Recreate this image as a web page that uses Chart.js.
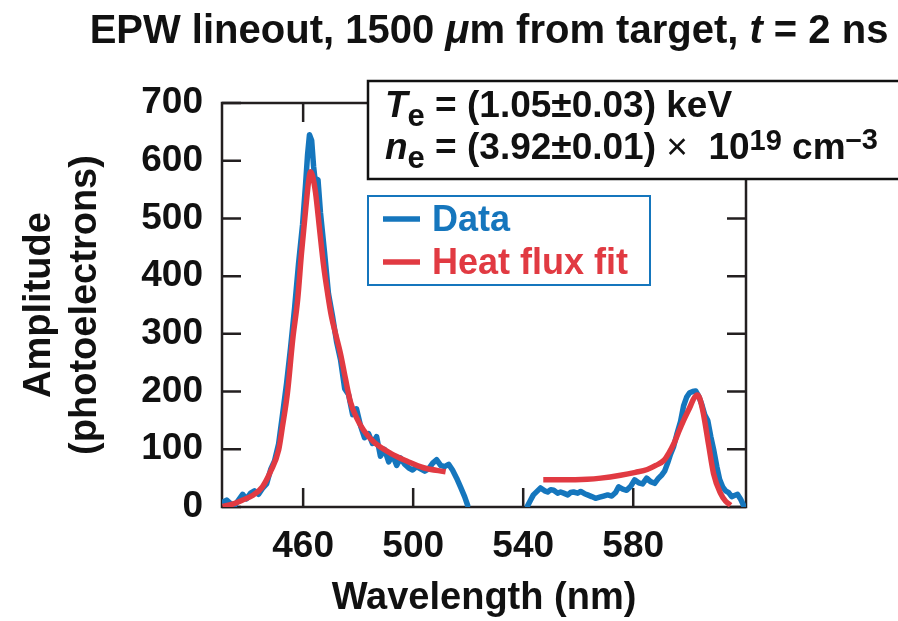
<!DOCTYPE html>
<html>
<head>
<meta charset="utf-8">
<script src="https://cdn.jsdelivr.net/npm/chart.js@4.4.1/dist/chart.umd.min.js"></script>
<style>
  html, body { margin: 0; padding: 0; background: #fff; overflow: hidden; }
  #wrap { width: 898px; height: 621px; position: relative; }
</style>
</head>
<body>
<div id="wrap"><canvas id="c" width="898" height="621"></canvas></div>
<script>
// Measured EPW spectrum (wavelength in nm, amplitude in photoelectrons)
const dataWavelengthLeft = [430.7, 432.2, 433.6, 435.1, 436.5, 438.0, 439.4, 440.9, 442.3, 443.8, 445.2, 446.7, 448.2, 449.6, 451.1, 452.5, 454.0, 455.4, 456.9, 458.3, 459.8, 460.9, 461.6, 462.3, 463.1, 463.8, 464.5, 465.4, 466.3, 467.8, 469.2, 470.7, 472.2, 473.6, 475.1, 476.5, 478.0, 479.4, 480.9, 482.3, 483.8, 485.2, 486.7, 488.1, 489.6, 491.1, 492.5, 494.0, 495.4, 496.9, 498.3, 499.8, 501.2, 502.7, 504.2, 505.6, 507.1, 508.5, 510.0, 511.4, 512.9, 514.3, 515.8, 517.2, 518.7, 519.8];
const dataAmplitudeLeft = [8, 12, 6, 3, 12, 22, 14, 24, 28, 22, 32, 40, 65, 80, 110, 160, 215, 275, 345, 420, 490, 560, 610, 645, 635, 590, 560, 567, 510, 440, 370, 330, 285, 255, 205, 195, 160, 170, 140, 120, 127, 110, 122, 88, 100, 78, 90, 72, 85, 74, 68, 64, 70, 66, 62, 66, 76, 82, 72, 70, 74, 64, 50, 35, 18, 3];
const dataWavelengthRight = [541.6, 542.7, 543.7, 545.2, 546.3, 547.8, 548.9, 550.0, 551.1, 552.5, 553.6, 554.7, 556.2, 557.2, 558.3, 559.8, 560.9, 562.3, 563.4, 564.9, 566.3, 567.8, 569.2, 570.7, 572.2, 573.6, 574.7, 576.2, 577.6, 579.1, 580.5, 582.0, 583.4, 584.9, 586.3, 587.8, 589.2, 590.3, 591.4, 592.5, 593.6, 594.7, 595.8, 597.2, 598.3, 599.4, 600.5, 601.6, 602.7, 603.8, 604.9, 606.0, 607.1, 608.2, 609.3, 610.4, 611.4, 612.5, 613.6, 614.7, 615.8, 616.8, 617.9, 619.0, 620.1];
const dataAmplitudeRight = [2, 12, 21, 28, 33, 28, 26, 30, 29, 24, 26, 24, 21, 25, 26, 24, 27, 23, 21, 18, 15, 17, 19, 21, 19, 25, 35, 31, 29, 36, 47, 42, 40, 50, 44, 41, 50, 55, 62, 76, 92, 105, 125, 148, 175, 190, 198, 200, 201, 192, 178, 160, 150, 122, 98, 70, 48, 35, 28, 25, 18, 20, 22, 14, 3];

// Heat-flux model fit
const fitWavelengthLeft = [430.7, 434.3, 438.0, 441.6, 445.2, 448.2, 451.1, 452.5, 454.3, 456.2, 458.0, 459.4, 460.9, 462.0, 462.7, 463.4, 464.5, 466.0, 467.4, 468.9, 470.3, 471.8, 473.6, 475.4, 477.2, 479.4, 482.0, 485.6, 491.8, 498.0, 503.8, 511.8];
const fitAmplitudeLeft = [1, 5, 12, 20, 35, 62, 99, 140, 198, 290, 359, 440, 515, 565, 581, 574, 545, 480, 420, 370, 330, 300, 265, 222, 182, 155, 133, 113, 93, 79, 68, 61];
const fitWavelengthRight = [547.3, 553.6, 563.3, 568.2, 575.4, 580.8, 585.1, 588.2, 591.2, 592.9, 594.8, 596.5, 598.4, 600.8, 601.9, 603.3, 604.2, 605.5, 607.5, 609.2, 611.7, 613.6, 615.4];
const fitAmplitudeRight = [47, 47, 48, 50, 55, 60, 65, 72, 81, 93, 110, 130, 151, 175, 187, 194, 188, 162, 105, 58, 24, 10, 3];

const xTickValues = [460, 500, 540, 580];
const yTickValues = [0, 100, 200, 300, 400, 500, 600, 700];

const FAMILY = '"Liberation Sans", Arial, Helvetica, sans-serif';
const INK = '#111';
const BLUE = '#1576bd';
const RED = '#e13a42';

function toPoints(xs, ys) {
  return xs.map((x, i) => ({ x: x, y: ys[i] }));
}
function withGap(a, b) {
  // a null point separates the two spectral windows
  return a.concat([{ x: (a[a.length - 1].x + b[0].x) / 2, y: null }], b);
}

const dataPoints = withGap(toPoints(dataWavelengthLeft, dataAmplitudeLeft), toPoints(dataWavelengthRight, dataAmplitudeRight));
const fitPoints = withGap(toPoints(fitWavelengthLeft, fitAmplitudeLeft), toPoints(fitWavelengthRight, fitAmplitudeRight));

// draw a run of differently-styled text pieces, left to right
function runsWidth(ctx, runs) {
  let w = 0;
  for (const r of runs) { ctx.font = r.f; w += ctx.measureText(r.t).width; }
  return w;
}
function drawRuns(ctx, x, y, runs) {
  let cx = x;
  for (const r of runs) {
    ctx.font = r.f;
    ctx.fillText(r.t, cx, y + (r.dy || 0));
    cx += ctx.measureText(r.t).width;
  }
  return cx;
}

const framePlugin = {
  id: 'frame',
  beforeDatasetsDraw(chart) {
    const { ctx, chartArea: a, scales } = chart;
    const tl = 19;
    ctx.save();
    ctx.strokeStyle = '#231f20';
    ctx.lineWidth = 2.5;
    ctx.lineCap = 'butt';
    ctx.beginPath();
    for (const v of xTickValues) {
      const px = scales.x.getPixelForValue(v);
      ctx.moveTo(px, a.bottom); ctx.lineTo(px, a.bottom - tl);
      ctx.moveTo(px, a.top); ctx.lineTo(px, a.top + tl);
    }
    for (const v of yTickValues) {
      const py = scales.y.getPixelForValue(v);
      ctx.moveTo(a.left, py); ctx.lineTo(a.left + tl, py);
      ctx.moveTo(a.right, py); ctx.lineTo(a.right - tl, py);
    }
    ctx.stroke();
    ctx.strokeRect(a.left, a.top, a.right - a.left, a.bottom - a.top);
    ctx.restore();
  },
  afterDraw(chart) {
    const { ctx } = chart;
    ctx.save();
    ctx.fillStyle = INK;
    ctx.textBaseline = 'alphabetic';
    ctx.textAlign = 'left';

    // title
    const tb = 'bold 40px ' + FAMILY;
    const ti = 'italic bold 40px ' + FAMILY;
    const titleRuns = [
      { t: 'EPW lineout, 1500 ', f: tb },
      { t: '\u03bc', f: ti },
      { t: 'm from target, ', f: tb },
      { t: 't', f: ti },
      { t: ' = 2 ns', f: tb }
    ];
    const tw = runsWidth(ctx, titleRuns);
    drawRuns(ctx, 489 - tw / 2, 43, titleRuns);

    // fit-parameter box
    ctx.fillStyle = '#fff';
    ctx.fillRect(368, 81, 540, 98);
    ctx.strokeStyle = '#111';
    ctx.lineWidth = 2.5;
    ctx.strokeRect(368, 81, 540, 98);
    ctx.fillStyle = INK;
    const ab = 'bold 37px ' + FAMILY;
    const ai = 'italic bold 37px ' + FAMILY;
    const as = 'bold 31px ' + FAMILY;
    const sup = 'bold 29px ' + FAMILY;
    const thin = '37px ' + FAMILY;
    drawRuns(ctx, 385, 117, [
      { t: 'T', f: ai },
      { t: 'e', f: as, dy: 9 },
      { t: ' = (1.05\u00b10.03) keV', f: ab }
    ]);
    drawRuns(ctx, 385, 159, [
      { t: 'n', f: ai },
      { t: 'e', f: as, dy: 9 },
      { t: ' = (3.92\u00b10.01) ', f: ab },
      { t: '\u00d7', f: thin },
      { t: '  10', f: ab },
      { t: '19', f: sup, dy: -9 },
      { t: ' cm', f: ab },
      { t: '\u20133', f: sup, dy: -10 }
    ]);

    // legend
    ctx.fillStyle = '#fff';
    ctx.fillRect(368, 196, 282, 89);
    ctx.strokeStyle = BLUE;
    ctx.lineWidth = 2;
    ctx.strokeRect(368, 196, 282, 89);
    const items = chart.data.datasets;
    const rowY = [219, 262];
    const lf = 'bold 36px ' + FAMILY;
    items.forEach((ds, i) => {
      ctx.strokeStyle = ds.borderColor;
      ctx.lineWidth = 5.5;
      ctx.beginPath();
      ctx.moveTo(383, rowY[i]);
      ctx.lineTo(420, rowY[i]);
      ctx.stroke();
      ctx.fillStyle = ds.borderColor;
      ctx.font = lf;
      ctx.fillText(ds.label, 432, rowY[i] + 12);
    });
    ctx.restore();
  }
};

const tickFont = { family: FAMILY, size: 37, weight: 'bold' };

new Chart(document.getElementById('c'), {
  type: 'line',
  data: {
    datasets: [
      {
        label: 'Data',
        data: dataPoints,
        borderColor: BLUE,
        borderWidth: 5.5,
        pointRadius: 0,
        tension: 0,
        spanGaps: false,
        borderJoinStyle: 'round',
        borderCapStyle: 'round',
        order: 2
      },
      {
        label: 'Heat flux fit',
        data: fitPoints,
        borderColor: RED,
        borderWidth: 5.5,
        pointRadius: 0,
        cubicInterpolationMode: 'monotone',
        spanGaps: false,
        borderJoinStyle: 'round',
        borderCapStyle: 'butt',
        order: 1
      }
    ]
  },
  options: {
    responsive: false,
    animation: false,
    devicePixelRatio: 1,
    layout: { padding: { top: 103, right: 152, left: 0, bottom: 0 } },
    plugins: { legend: { display: false }, tooltip: { enabled: false }, title: { display: false } },
    scales: {
      x: {
        type: 'linear',
        min: 430.5,
        max: 621,
        grid: { display: false, drawTicks: false },
        border: { display: false },
        afterBuildTicks(scale) { scale.ticks = xTickValues.map(v => ({ value: v })); },
        afterFit(scale) { scale.height = 621 - 507; },
        ticks: { autoSkip: false, maxRotation: 0, padding: 18, color: INK, font: tickFont },
        title: {
          display: true,
          text: 'Wavelength (nm)',
          color: INK,
          font: { family: FAMILY, size: 38, weight: 'bold', lineHeight: 1.2 },
          padding: { top: 0, bottom: 0 }
        }
      },
      y: {
        type: 'linear',
        min: 0,
        max: 700,
        grid: { display: false, drawTicks: false },
        border: { display: false },
        afterBuildTicks(scale) { scale.ticks = yTickValues.map(v => ({ value: v })); },
        afterFit(scale) { scale.width = 222; },
        ticks: { autoSkip: false, padding: 19, color: INK, font: tickFont },
        title: {
          display: true,
          text: ['Amplitude', '(photoelectrons)'],
          color: INK,
          font: { family: FAMILY, size: 38, weight: 'bold', lineHeight: 1.2 },
          padding: { top: 17, bottom: 0 }
        }
      }
    }
  },
  plugins: [framePlugin]
});
</script>
</body>
</html>
